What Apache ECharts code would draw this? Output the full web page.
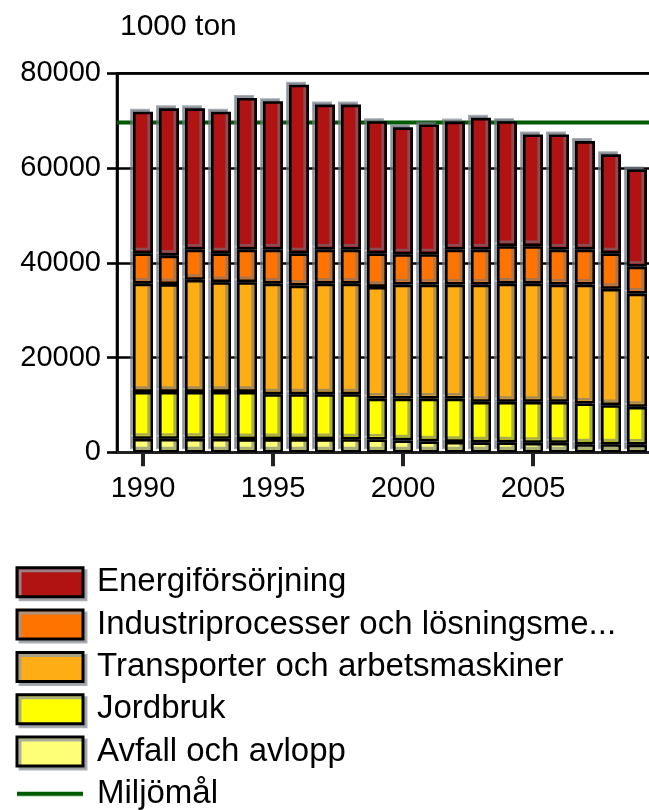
<!DOCTYPE html>
<html>
<head>
<meta charset="utf-8">
<script src="https://cdn.jsdelivr.net/npm/echarts@6/dist/echarts.min.js"></script>
<style>
html,body{margin:0;padding:0;background:#fff;overflow:hidden;}
#chart{width:649px;height:810px;}
</style>
</head>
<body>
<div id="chart"></div>
<script>
// Categories (1989 and 2010 are empty edge slots of the axis)
var years = ['1989','1990','1991','1992','1993','1994','1995','1996','1997','1998','1999',
             '2000','2001','2002','2003','2004','2005','2006','2007','2008','2009','2010'];
var tickLabels = ['1990','1995','2000','2005'];

// Values in 1000 ton
var avfall     = [null, 2850,2850,2850,2850,2800,2800,2800,2800,2750,2700, 2500,2300,2200,2100,2100,2000,2000,1700,1700,1600, null];
var jordbruk   = [null, 9900,9900,9900,9900,9950,9450,9450,9450,9500,8650, 8850,9050,9150,8550,8550,8650,8650,8600,8250,8000, null];
var transport  = [null, 22850,22750,23650,23150,23150,23350,22950,23350,23350,23550, 24050,24050,24050,24750,24950,24950,24750,25100,24550,23900, null];
var industri   = [null, 6400,6000,6400,6100,6900,7200,6800,7200,7200,7100, 6400,6400,7400,7400,7900,7900,7400,7400,7500,5700, null];
var energi     = [null, 29900,31100,29800,29900,32000,31300,35600,30600,30600,27900, 26800,27400,27000,27800,26400,23600,24300,22900,20900,20500, null];
var miljomal   = [69600,69600,69600,69600,69600,69600,69600,69600,69600,69600,69600,
                  69600,69600,69600,69600,69600,69600,69600,69600,69600,69600,69600];

var names = {
  energi: 'Energiförsörjning',
  industri: 'Industriprocesser och lösningsme...',
  transport: 'Transporter och arbetsmaskiner',
  jordbruk: 'Jordbruk',
  avfall: 'Avfall och avlopp',
  mal: 'Miljömål'
};

var FONT = 'Liberation Sans';
var GREEN = '#005A00';
var chart = echarts.init(document.getElementById('chart'), null, {renderer:'canvas'});

function barSeries(name, data, color) {
  return {
    name: name, type: 'bar', stack: 'total', data: data,
    barWidth: 20, z: 3,
    itemStyle: {
      color: color, borderColor: '#000', borderWidth: 2.6,
      shadowColor: 'rgba(110,118,128,0.6)', shadowBlur: 0.01,
      shadowOffsetX: -3, shadowOffsetY: -3
    },
    emphasis: {disabled: true}
  };
}

function showTick(index, value) { return tickLabels.indexOf(String(value)) >= 0; }

var option = {
  animation: false,
  backgroundColor: '#fff',
  title: {
    text: '1000 ton', left: 115, top: 7,
    textStyle: {fontFamily: FONT, fontSize: 30, fontWeight: 'normal', color: '#000'}
  },
  grid: {
    left: 117, top: 73.3, width: 546, height: 379,
    show: true, borderColor: '#111', borderWidth: 2.6, backgroundColor: 'transparent',
    containLabel: false, outerBoundsMode: 'none'
  },
  legend: {
    orient: 'vertical', left: 15.5, top: 565.8, height: 320, padding: 0,
    itemWidth: 66, itemHeight: 29, itemGap: 9.3,
    textStyle: {fontFamily: FONT, fontSize: 33, color: '#000', lineHeight: 29, padding: [0,0,0,9]},
    itemStyle: {borderColor: '#000', borderWidth: 3, shadowColor: 'rgba(150,155,160,0.8)', shadowBlur: 0.01, shadowOffsetX: 3, shadowOffsetY: 3},
    data: [
      {name: names.energi, icon: 'rect'},
      {name: names.industri, icon: 'rect'},
      {name: names.transport, icon: 'rect'},
      {name: names.jordbruk, icon: 'rect'},
      {name: names.avfall, icon: 'rect'},
      {name: names.mal, icon: 'path://M0,0L66,0L66,4L0,4Z',
       itemStyle: {color: GREEN, borderWidth: 0, borderColor: GREEN, shadowOffsetX: 0, shadowOffsetY: 1, shadowColor: 'rgba(140,200,140,0.6)'}}
    ],
    selectedMode: false
  },
  xAxis: {
    type: 'category', data: years, boundaryGap: false,
    axisLine: {show: true, lineStyle: {color: '#222', width: 3}},
    axisTick: {show: true, interval: showTick, length: 14, lineStyle: {color: '#222', width: 4}},
    axisLabel: {interval: showTick, margin: 22, fontFamily: FONT, fontSize: 29, color: '#000'},
    splitLine: {show: false}
  },
  yAxis: {
    type: 'value', min: 0, max: 80000, interval: 20000,
    axisLine: {show: true, lineStyle: {color: '#000', width: 2.7}},
    axisTick: {show: true, length: 10, lineStyle: {color: '#000', width: 2.6}},
    axisLabel: {margin: 16, fontFamily: FONT, fontSize: 29, color: '#000',
                formatter: function (v) { return String(v); }},
    splitLine: {show: true, lineStyle: {color: '#000', width: 2.6}}
  },
  series: [
    {
      name: names.mal, type: 'line', data: miljomal, z: 1,
      symbol: 'none', showSymbol: false,
      lineStyle: {color: GREEN, width: 4},
      itemStyle: {color: GREEN},
      emphasis: {disabled: true}
    },
    barSeries(names.avfall, avfall, '#FFFF77'),
    barSeries(names.jordbruk, jordbruk, '#FFFF00'),
    barSeries(names.transport, transport, '#FFAD14'),
    barSeries(names.industri, industri, '#FF7400'),
    barSeries(names.energi, energi, '#B11313')
  ]
};
chart.setOption(option);
</script>
</body>
</html>
